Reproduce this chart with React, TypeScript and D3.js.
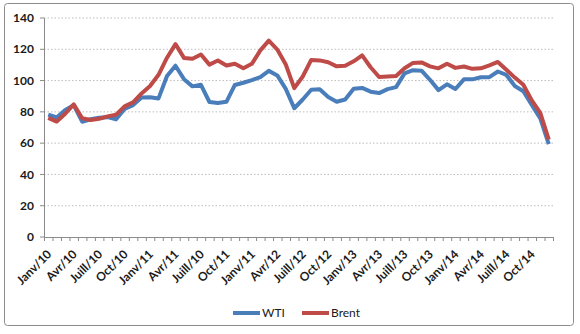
import * as d3 from "d3";
import React from "react";

// monthly average prices, $/barrel, Jan 2010 - Dec 2014
const years = ["10", "11", "12", "13", "14"];
const months = ["01", "02", "03", "04", "05", "06", "07", "08", "09", "10", "11", "12"];
const categories = years.flatMap(y => months.map(m => `${m}/${y}`));

const wti = [
  78.3, 76.4, 81.2, 84.3, 73.7, 75.3, 76.3, 76.6, 75.2, 81.9, 84.3, 89.2,
  89.4, 88.6, 102.9, 109.5, 100.9, 96.3, 97.3, 86.3, 85.6, 86.4, 97.2, 98.6,
  100.3, 102.2, 106.2, 103.3, 94.7, 82.3, 87.9, 94.1, 94.5, 89.5, 86.5, 87.9,
  94.8, 95.3, 92.9, 92.0, 94.5, 95.8, 104.6, 106.6, 106.3, 100.5, 93.9, 97.6,
  94.6, 100.8, 100.8, 102.1, 102.2, 105.8, 103.6, 96.5, 93.2, 84.4, 75.8, 59.3
];

const brent = [
  76.2, 73.8, 78.8, 84.8, 75.9, 74.8, 75.6, 77.1, 78.2, 83.5, 86.1, 91.8,
  96.5, 103.7, 114.6, 123.3, 114.5, 113.9, 116.7, 110.2, 112.8, 109.6, 110.8, 107.9,
  110.7, 119.3, 125.5, 119.8, 110.3, 95.2, 102.6, 113.2, 112.9, 111.7, 109.1, 109.5,
  112.3, 116.1, 108.5, 102.3, 102.6, 102.9, 107.9, 111.3, 111.6, 109.1, 107.8, 110.8,
  108.1, 109.0, 107.5, 107.8, 109.7, 111.9, 106.9, 101.9, 97.3, 87.3, 79.4, 62.3
];

// one label every 3 months (as written on the original chart)
const tickLabels = [
  "Janv/10", "Avr/10", "Juill/10", "Oct/10",
  "Janv/11", "Avr/11", "Juill/10", "Oct/11",
  "Janv/11", "Avr/12", "Juill/12", "Oct/12",
  "Janv/13", "Avr/13", "Juill/13", "Oct/13",
  "Janv/14", "Avr/14", "Juill/14", "Oct/14"
];

const yTicks = [0, 20, 40, 60, 80, 100, 120, 140];

const series = [
  { name: "WTI", values: wti, color: "#4a7ebb" },
  { name: "Brent", values: brent, color: "#be4b48" }
];

export default function App() {
  const WIDTH = 580;
  const HEIGHT = 334;
  const left = 44, right = 553, top = 18, bottom = 237;
  const font = "Lato, 'Liberation Sans', sans-serif";

  const x = d3.scaleBand().domain(categories).range([left, right]).paddingInner(0);
  const y = d3.scaleLinear().domain([0, 140]).range([bottom, top]);
  const cx = (i: number) => (x(categories[i]) as number) + x.bandwidth() / 2;

  const line = d3
    .line<number>()
    .x((d, i) => cx(i))
    .y(d => y(d))
    .curve(d3.curveLinear);

  const boundaries = d3.range(categories.length + 1).map(i => left + i * x.bandwidth());

  return (
    <svg
      width={WIDTH}
      height={HEIGHT}
      style={{ position: "absolute", left: 0, top: 0, background: "#fff" }}
      fontFamily={font}
    >
      <rect x={4.5} y={3.5} width={569} height={322} rx={3} fill="#fff" stroke="#8c8c8c" />

      {/* grid */}
      {yTicks.filter(t => t > 0).map(t => (
        <line key={t} x1={left} x2={right} y1={y(t)} y2={y(t)}
          stroke="#bdbdbd" strokeDasharray="1.5,2" />
      ))}

      {/* y axis */}
      <line x1={left + 0.5} x2={left + 0.5} y1={top} y2={bottom} stroke="#8a8a8a" />
      {yTicks.map(t => (
        <g key={t} transform={`translate(0,${y(t)})`}>
          <line x1={40} x2={left} y1={0} y2={0} stroke="#8a8a8a" />
          <text x={34} y={0} dy="0.35em" textAnchor="end" fontSize={12}
            fontWeight="bold" fill="#1a1a1a">{t}</text>
        </g>
      ))}

      {/* x axis */}
      <line x1={left} x2={right} y1={bottom + 0.5} y2={bottom + 0.5} stroke="#8a8a8a" />
      {boundaries.map((b, i) => (
        <line key={i} x1={b + 0.5} x2={b + 0.5} y1={bottom} y2={bottom + 4} stroke="#8a8a8a" />
      ))}
      {tickLabels.map((lab, k) => {
        const px = cx(k * 3);
        return (
          <text key={k} transform={`translate(${px + 4},${bottom + 18}) rotate(-45)`}
            textAnchor="end" fontSize={12} fontWeight="bold" fill="#1a1a1a">{lab}</text>
        );
      })}

      {/* lines */}
      {series.map(s => (
        <path key={s.name} d={line(s.values) as string} fill="none" stroke={s.color}
          strokeWidth={4} strokeLinejoin="round" />
      ))}

      {/* legend */}
      <g fontSize={12} fill="#1a1a1a">
        <line x1={233} x2={260} y1={313} y2={313} stroke={series[0].color} strokeWidth={4} />
        <text x={262} y={313} dy="0.35em">{series[0].name}</text>
        <line x1={302} x2={329} y1={313} y2={313} stroke={series[1].color} strokeWidth={4} />
        <text x={331} y={313} dy="0.35em">{series[1].name}</text>
      </g>
    </svg>
  );
}
